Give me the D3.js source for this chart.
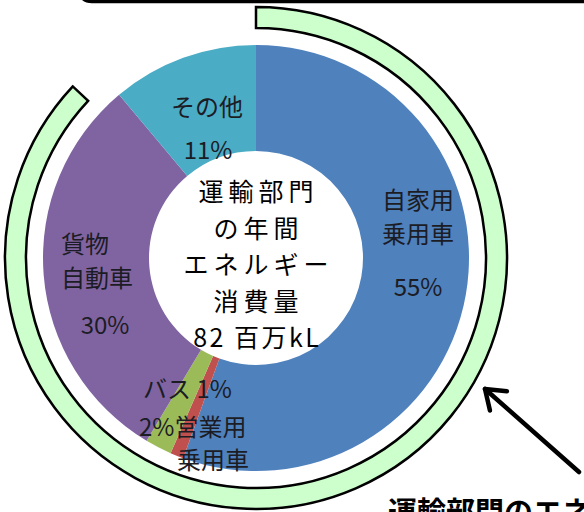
<!DOCTYPE html>
<html>
<head>
<meta charset="utf-8">
<script src="https://cdn.jsdelivr.net/npm/d3@7"></script>
<style>
  html, body { margin: 0; padding: 0; background: #fff; overflow: hidden; }
  svg { display: block; }
</style>
</head>
<body>
<svg id="chart" width="584" height="512"></svg>
<script>
// Transport-sector annual energy consumption, share by vehicle type (%)
const categories = ["自家用乗用車", "バス", "営業用乗用車", "貨物自動車", "その他"];
const shares = [55, 1, 2, 30, 11];
const sliceColors = ["#4f81bd", "#c0504d", "#9bbb59", "#8064a2", "#4bacc6"];
// Slices covered by the highlighted outer band (all road vehicles)
const bandCategories = ["自家用乗用車", "バス", "営業用乗用車", "貨物自動車"];
const centerLines = ["運輸部門", "の年間", "エネルギー", "消費量", "82 百万kL"];

const svg = d3.select("#chart");
const cx = 256, cy = 258;
const outerR = 213, innerR = 107;

const g = svg.append("g").attr("transform", `translate(${cx},${cy})`);

const pie = d3.pie().sort(null).value(d => d.v);
const arcs = pie(categories.map((c, i) => ({ c, v: shares[i] })));

const arc = d3.arc().innerRadius(innerR).outerRadius(outerR);
const color = d3.scaleOrdinal().domain(categories).range(sliceColors);

g.selectAll("path.slice")
  .data(arcs)
  .join("path")
  .attr("class", "slice")
  .attr("d", arc)
  .attr("fill", d => color(d.data.c));

// Outer band spanning the road-vehicle slices
const bandArcs = arcs.filter(a => bandCategories.includes(a.data.c));
const bandStart = d3.min(bandArcs, a => a.startAngle);
const bandEnd = d3.max(bandArcs, a => a.endAngle) - 0.12;
g.append("path")
  .attr("d", d3.arc().innerRadius(230).outerRadius(251)({ startAngle: bandStart, endAngle: bandEnd }))
  .attr("fill", "#ccffcc")
  .attr("stroke", "#000")
  .attr("stroke-width", 2.5)
  .attr("stroke-linejoin", "miter");

// Slice labels
const labelFont = "'Noto Sans CJK JP', 'Noto Sans', sans-serif";
const labels = [
  { t: "自家用", x: 418, y: 198, a: "middle" },
  { t: "乗用車", x: 418, y: 232, a: "middle" },
  { t: `${shares[0]}%`, x: 418, y: 285, a: "middle" },
  { t: "その他", x: 207, y: 105, a: "middle" },
  { t: `${shares[4]}%`, x: 208, y: 148, a: "middle" },
  { t: "貨物", x: 61, y: 242, a: "start" },
  { t: "自動車", x: 61, y: 276, a: "start" },
  { t: `${shares[3]}%`, x: 105, y: 323, a: "middle" },
  { t: `バス ${shares[1]}%`, x: 143, y: 387, a: "start" },
  { t: `${shares[2]}%営業用`, x: 139, y: 425, a: "start" },
  { t: "乗用車", x: 177, y: 458, a: "start" }
];
svg.append("g").selectAll("text")
  .data(labels)
  .join("text")
  .attr("x", d => d.x)
  .attr("y", d => d.y)
  .attr("text-anchor", d => d.a)
  .attr("dominant-baseline", "central")
  .attr("font-family", labelFont)
  .attr("font-size", 24)
  .attr("fill", "#1c1c24")
  .text(d => d.t);

// Title in the hole (letter-spaced; trailing spacing offset by half)
const titleSpacing = (d, i) => (i === centerLines.length - 1 ? 2.5 : 5);
svg.append("g").selectAll("text")
  .data(centerLines)
  .join("text")
  .attr("x", (d, i) => cx + titleSpacing(d, i) / 2)
  .attr("y", (d, i) => 190 + i * 36.5)
  .attr("text-anchor", "middle")
  .attr("dominant-baseline", "central")
  .attr("font-family", labelFont)
  .attr("font-size", 25)
  .attr("letter-spacing", titleSpacing)
  .attr("fill", "#000")
  .text(d => d);

// Frame edge along the top
svg.append("path")
  .attr("d", "M 590 1.5 L 92 1.5 Q 83 1.5 80 -6")
  .attr("fill", "none")
  .attr("stroke", "#000")
  .attr("stroke-width", 3.5);

// Pointer arrow to the band
const tail = [579, 472], tip = [485, 389];
const ang = Math.atan2(tip[1] - tail[1], tip[0] - tail[0]);
const head = 22, spread = 0.62;
const arrow = svg.append("g").attr("stroke", "#000").attr("stroke-width", 4.5).attr("fill", "none").attr("stroke-linecap", "round");
arrow.append("line").attr("x1", tail[0]).attr("y1", tail[1]).attr("x2", tip[0]).attr("y2", tip[1]);
arrow.append("path")
  .attr("stroke-linejoin", "round")
  .attr("d", d3.line()([
    [tip[0] - head * Math.cos(ang - spread), tip[1] - head * Math.sin(ang - spread)],
    tip,
    [tip[0] - head * Math.cos(ang + spread), tip[1] - head * Math.sin(ang + spread)]
  ]));

// Caption beneath, running off the lower edge
svg.append("text")
  .attr("x", 388)
  .attr("y", 523)
  .attr("font-family", labelFont)
  .attr("font-weight", "bold")
  .attr("font-size", 29)
  .attr("fill", "#000")
  .text("運輸部門のエネルギー消費量");
</script>
</body>
</html>
